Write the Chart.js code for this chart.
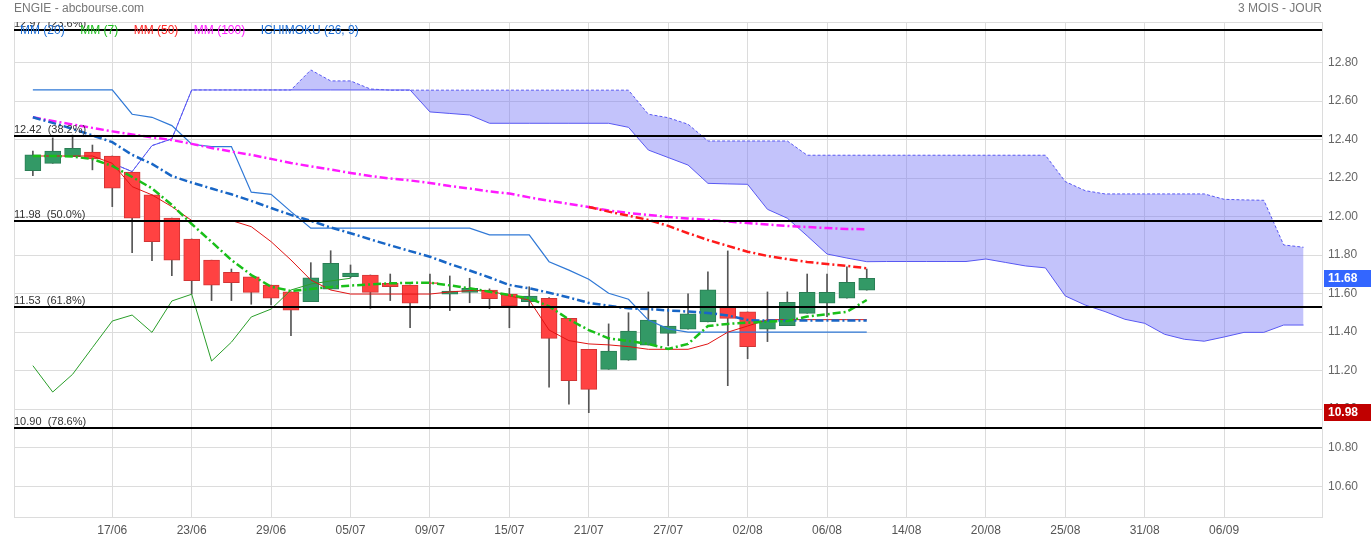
<!DOCTYPE html>
<html>
<head>
<meta charset="utf-8">
<title>ENGIE - abcbourse.com</title>
<script src="https://cdn.jsdelivr.net/npm/chart.js@4.4.1/dist/chart.umd.min.js"></script>
<style>
  html, body { margin: 0; padding: 0; background: #fff; }
  canvas { display: block; }
</style>
</head>
<body>
<canvas id="chart" width="1371" height="541"></canvas>
<script>
// axis ticks
const xTickPos = [4, 8, 12, 16, 20, 24, 28, 32, 36, 40, 44, 48, 52, 56, 60];
const xTickLabels = ['17/06', '23/06', '29/06', '05/07', '09/07', '15/07', '21/07', '27/07',
    '02/08', '06/08', '14/08', '20/08', '25/08', '31/08', '06/09'];
const yTicks = [10.6, 10.8, 11.0, 11.2, 11.4, 11.6, 11.8, 12.0, 12.2, 12.4, 12.6, 12.8];

// daily candles (index 0 = 11/06)
const open = [12.239, 12.277, 12.312, 12.335, 12.315, 12.231, 12.113, 11.992, 11.884, 11.774,
    11.711, 11.687, 11.645, 11.609, 11.559, 11.623, 11.688, 11.697, 11.654, 11.645,
    11.657, 11.598, 11.607, 11.619, 11.598, 11.559, 11.576, 11.472, 11.311, 11.207,
    11.254, 11.333, 11.394, 11.415, 11.453, 11.529, 11.505, 11.415, 11.434, 11.498,
    11.550, 11.576, 11.618];
const high = [12.341, 12.409, 12.424, 12.372, 12.315, 12.231, 12.113, 11.992, 11.884, 11.774,
    11.728, 11.687, 11.645, 11.609, 11.761, 11.823, 11.749, 11.697, 11.702, 11.645,
    11.702, 11.692, 11.680, 11.625, 11.628, 11.636, 11.580, 11.472, 11.311, 11.443,
    11.501, 11.609, 11.533, 11.599, 11.714, 11.822, 11.505, 11.609, 11.609, 11.702,
    11.702, 11.740, 11.728];
const low = [12.213, 12.277, 12.312, 12.243, 12.052, 11.813, 11.771, 11.694, 11.598, 11.564,
    11.564, 11.545, 11.541, 11.382, 11.559, 11.623, 11.682, 11.524, 11.564, 11.423,
    11.524, 11.512, 11.553, 11.522, 11.423, 11.536, 11.114, 11.026, 10.982, 11.207,
    11.254, 11.333, 11.330, 11.415, 11.453, 11.122, 11.262, 11.351, 11.434, 11.498,
    11.481, 11.576, 11.618];
const close = [12.321, 12.341, 12.355, 12.300, 12.148, 11.992, 11.870, 11.774, 11.668, 11.644,
    11.657, 11.607, 11.576, 11.514, 11.682, 11.758, 11.707, 11.607, 11.636, 11.550,
    11.652, 11.614, 11.628, 11.574, 11.536, 11.587, 11.368, 11.148, 11.103, 11.302,
    11.406, 11.463, 11.432, 11.495, 11.620, 11.472, 11.325, 11.460, 11.555, 11.607,
    11.607, 11.659, 11.680];

// moving averages
const mm7 = [12.315, 12.315, 12.312, 12.299, 12.263, 12.206, 12.147, 12.061, 11.962, 11.869,
    11.775, 11.697, 11.636, 11.614, 11.624, 11.635, 11.642, 11.648, 11.654, 11.656,
    11.657, 11.643, 11.628, 11.610, 11.593, 11.576, 11.534, 11.466, 11.411, 11.368,
    11.354, 11.339, 11.313, 11.339, 11.432, 11.443, 11.449, 11.455, 11.458, 11.481,
    11.493, 11.506, 11.567];
const mm20 = [12.516, 12.487, 12.456, 12.422, 12.387, 12.321, 12.274, 12.211, 12.177, 12.146,
    12.116, 12.082, 12.045, 12.009, 11.978, 11.944, 11.914, 11.882, 11.851, 11.821,
    11.792, 11.754, 11.720, 11.684, 11.645, 11.628, 11.605, 11.580, 11.552, 11.537,
    11.524, 11.520, 11.513, 11.507, 11.500, 11.487, 11.463, 11.460, 11.460, 11.460,
    11.460, 11.460, 11.460];
const mm50 = [null, null, null, null, null, null, null, null, null, null,
    null, null, null, null, null, null, null, null, null, null,
    null, null, null, null, null, null, null, null, 12.050, 12.026,
    12.005, 11.983, 11.952, 11.914, 11.879, 11.848, 11.818, 11.796, 11.779, 11.765,
    11.754, 11.744, 11.732];
const mm100 = [12.516, 12.497, 12.479, 12.461, 12.443, 12.427, 12.412, 12.398, 12.378, 12.357,
    12.338, 12.321, 12.300, 12.279, 12.261, 12.245, 12.227, 12.211, 12.198, 12.188,
    12.175, 12.159, 12.146, 12.131, 12.120, 12.100, 12.082, 12.066, 12.050, 12.032,
    12.019, 12.009, 11.998, 11.991, 11.983, 11.975, 11.967, 11.959, 11.952, 11.946,
    11.941, 11.936, 11.935];

// ichimoku (26, 9)
const tenkan = [12.315, 12.315, 12.315, 12.315, 12.277, 12.156, 12.113, 12.052, 11.980, 11.980,
    11.980, 11.948, 11.870, 11.775, 11.671, 11.619, 11.598, 11.598, 11.598, 11.598,
    11.598, 11.609, 11.616, 11.616, 11.588, 11.567, 11.411, 11.356, 11.339, 11.334,
    11.325, 11.311, 11.311, 11.311, 11.339, 11.400, 11.432, 11.465, 11.465, 11.465,
    11.465, 11.465, 11.465];
const kijun = [12.658, 12.658, 12.658, 12.658, 12.658, 12.532, 12.516, 12.473, 12.376, 12.364,
    12.364, 12.127, 12.116, 12.026, 11.940, 11.940, 11.940, 11.940, 11.940, 11.940,
    11.940, 11.940, 11.940, 11.905, 11.905, 11.905, 11.766, 11.722, 11.675, 11.602,
    11.571, 11.463, 11.417, 11.400, 11.400, 11.400, 11.400, 11.400, 11.400, 11.400,
    11.400, 11.400, 11.400];
const chikou = [11.226, 11.089, 11.181, 11.320, 11.458, 11.489, 11.399, 11.562, 11.597, 11.250,
    11.348, 11.479, 11.520, 11.619, 11.650, 11.666, 11.680];
const spanA = [null, null, null, null, 12.277, 12.234, 12.369, 12.404, 12.658, 12.658,
    12.658, 12.658, 12.658, 12.658, 12.658, 12.658, 12.658, 12.658, 12.658, 12.658,
    12.544, 12.536, 12.528, 12.485, 12.485, 12.485, 12.485, 12.485, 12.485, 12.485,
    12.464, 12.346, 12.307, 12.268, 12.173, 12.170, 12.168, 12.038, 11.992, 11.900,
    11.806, 11.785, 11.766, 11.767, 11.767, 11.767, 11.767, 11.767, 11.780, 11.762,
    11.744, 11.734, 11.588, 11.541, 11.507, 11.467, 11.446, 11.389, 11.363, 11.353,
    11.375, 11.399, 11.399, 11.437, 11.437];
const spanB = [null, null, null, null, 12.277, 12.234, 12.369, 12.404, 12.658, 12.658,
    12.658, 12.658, 12.658, 12.658, 12.762, 12.705, 12.705, 12.663, 12.657, 12.657,
    12.657, 12.657, 12.657, 12.657, 12.657, 12.657, 12.657, 12.657, 12.657, 12.657,
    12.657, 12.532, 12.514, 12.480, 12.393, 12.393, 12.393, 12.393, 12.393, 12.319,
    12.319, 12.319, 12.319, 12.319, 12.319, 12.319, 12.319, 12.319, 12.319, 12.319,
    12.319, 12.319, 12.182, 12.135, 12.118, 12.118, 12.118, 12.118, 12.118, 12.118,
    12.090, 12.087, 12.085, 11.853, 11.841];

// fibonacci retracements
const fibLevels = [12.97, 12.42, 11.98, 11.53, 10.90];
const fibPct = ['23.6%', '38.2%', '50.0%', '61.8%', '78.6%'];

// legend row
const legendNames = ['MM (20)', 'MM (7)', 'MM (50)', 'MM (100)', 'ICHIMOKU (26, 9)'];
const legendColors = ['#1f6fd6', '#1fbf1f', '#ff2a2a', '#ff22ff', '#1f6fd6'];

const GREEN = '#339966', GREEN_BORDER = '#2a7d54';
const RED = '#ff4242', RED_BORDER = '#d23434';

const pts = arr => arr.map((v, i) => ({ x: i, y: v }));
const isUp = i => close[i] >= open[i];

const dashDot = [8, 3, 2, 3];

function lineSet(data, color, width, dash, order) {
    return {
        type: 'line',
        data: pts(data),
        borderColor: color,
        borderWidth: width,
        borderDash: dash || [],
        pointRadius: 0,
        tension: 0,
        fill: false,
        order: order
    };
}

const overlayPlugin = {
    id: 'overlay',
    beforeDatasetsDraw(chart) {
        const { ctx, chartArea: a } = chart;
        ctx.save();
        ctx.strokeStyle = '#dcdcdc';
        ctx.lineWidth = 1;
        ctx.strokeRect(a.left + 0.5, a.top + 0.5, a.right - a.left, a.bottom - a.top);
        ctx.restore();
    },
    afterDatasetsDraw(chart) {
        const { ctx, chartArea: a, scales } = chart;
        ctx.save();
        ctx.beginPath();
        ctx.rect(a.left, a.top, a.right - a.left, a.bottom - a.top);
        ctx.clip();
        fibLevels.forEach((lvl, k) => {
            const y = Math.round(scales.y.getPixelForValue(lvl));
            ctx.strokeStyle = '#000';
            ctx.lineWidth = 2;
            ctx.beginPath();
            ctx.moveTo(a.left, y);
            ctx.lineTo(a.right, y);
            ctx.stroke();
            ctx.fillStyle = '#333';
            ctx.font = '11px Arial, "Liberation Sans", sans-serif';
            ctx.textAlign = 'left';
            ctx.textBaseline = 'bottom';
            ctx.fillText(lvl.toFixed(2) + '  (' + fibPct[k] + ')', a.left, y - 1);
        });
        ctx.restore();
    },
    afterDraw(chart) {
        const { ctx, chartArea: a, scales } = chart;
        ctx.save();
        // title row
        ctx.font = '12px Arial, "Liberation Sans", sans-serif';
        ctx.fillStyle = '#777';
        ctx.textBaseline = 'middle';
        ctx.textAlign = 'left';
        ctx.fillText('ENGIE - abcbourse.com', a.left, 9);
        ctx.textAlign = 'right';
        ctx.fillText('3 MOIS - JOUR', a.right, 9);

        // legend
        ctx.textAlign = 'left';
        let x = 20;
        legendNames.forEach((name, k) => {
            ctx.fillStyle = legendColors[k];
            ctx.fillText(name, x, 31);
            x += ctx.measureText(name).width + 15.5;
        });

        // price tags
        const tag = (value, color) => {
            const y = scales.y.getPixelForValue(value);
            ctx.fillStyle = color;
            ctx.fillRect(a.right + 2, Math.round(y - 8.5), chart.width - a.right - 2, 17);
            ctx.fillStyle = '#fff';
            ctx.font = 'bold 12px Arial, "Liberation Sans", sans-serif';
            ctx.textBaseline = 'middle';
            ctx.fillText(value.toFixed(2), a.right + 6, y + 0.5);
        };
        tag(close[close.length - 1], '#3366ff');
        tag(Math.min(...low), '#c00000');
        ctx.restore();
    }
};

new Chart(document.getElementById('chart'), {
    type: 'line',
    data: {
        datasets: [
            // cloud (senkou A solid, senkou B dashed)
            {
                type: 'line',
                data: pts(spanA),
                borderColor: '#5858f2',
                borderWidth: 1,
                backgroundColor: 'rgba(112, 112, 246, 0.42)',
                pointRadius: 0,
                tension: 0,
                fill: '+1',
                order: 20
            },
            lineSet(spanB, '#5858f2', 1, [3, 2], 19),
            {
                type: 'bar',
                data: high.map((h, i) => ({ x: i, y: [low[i], h] })),
                backgroundColor: '#555',
                barThickness: 1,
                grouped: false,
                order: 12
            },
            {
                type: 'bar',
                data: open.map((o, i) => ({ x: i, y: [o, close[i]] })),
                backgroundColor: open.map((o, i) => isUp(i) ? GREEN : RED),
                borderColor: open.map((o, i) => isUp(i) ? GREEN_BORDER : RED_BORDER),
                borderWidth: 1,
                borderSkipped: false,
                barThickness: 16,
                grouped: false,
                order: 11
            },
            lineSet(chikou, '#2a9e2a', 1, null, 9),
            lineSet(kijun, '#2f78d6', 1.2, null, 8),
            lineSet(tenkan, '#e01414', 1, null, 7),
            lineSet(mm100, '#ff1aff', 2.5, dashDot, 6),
            lineSet(mm50, '#ff1a1a', 2.5, dashDot, 5),
            lineSet(mm20, '#1866c6', 2.5, dashDot, 4),
            lineSet(mm7, '#19bf19', 2.5, dashDot, 3)
        ]
    },
    options: {
        responsive: false,
        devicePixelRatio: 1,
        animation: false,
        layout: { padding: { left: 14, top: 22, right: 0, bottom: 0 } },
        plugins: {
            legend: { display: false },
            tooltip: { enabled: false },
            title: { display: false }
        },
        scales: {
            x: {
                type: 'linear',
                min: -0.95,
                max: 64.93,
                offset: false,
                afterBuildTicks: scale => { scale.ticks = xTickPos.map(v => ({ value: v })); },
                afterFit: scale => { scale.height = 24; },
                grid: { color: '#dcdcdc', drawTicks: false, offset: false },
                border: { color: '#dcdcdc' },
                ticks: {
                    autoSkip: false,
                    maxRotation: 0,
                    padding: 6,
                    color: '#555',
                    font: { size: 12, family: 'Arial, "Liberation Sans", sans-serif' },
                    callback: (v, i) => xTickLabels[i]
                }
            },
            y: {
                type: 'linear',
                position: 'right',
                min: 10.44,
                max: 13.011,
                beginAtZero: false,
                afterBuildTicks: scale => { scale.ticks = yTicks.map(v => ({ value: v })); },
                afterFit: scale => { scale.width = 49; },
                grid: { color: '#dcdcdc', drawTicks: false },
                border: { color: '#dcdcdc' },
                ticks: {
                    padding: 6,
                    color: '#666',
                    font: { size: 12, family: 'Arial, "Liberation Sans", sans-serif' },
                    callback: v => v.toFixed(2)
                }
            }
        }
    },
    plugins: [overlayPlugin]
});
</script>
</body>
</html>
